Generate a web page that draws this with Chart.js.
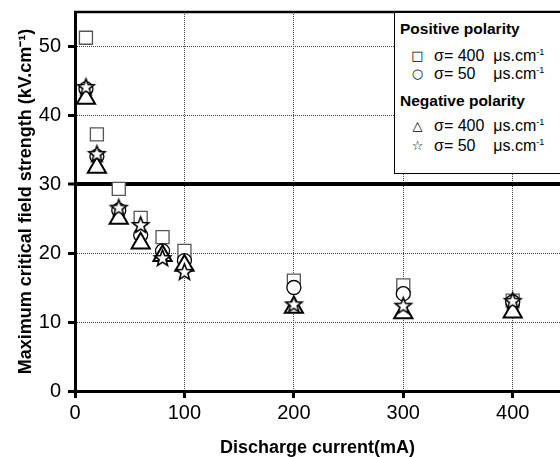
<!DOCTYPE html>
<html>
<head>
<meta charset="utf-8">
<script src="https://cdn.jsdelivr.net/npm/chart.js@4/dist/chart.umd.min.js"></script>
<style>
  html, body { margin: 0; padding: 0; background: #fff; overflow: hidden; }
  #wrap { position: relative; width: 560px; height: 457px; overflow: hidden; font-family: "Liberation Sans", Arial, sans-serif; }
  #chart { display: block; }
  #legend { position: absolute; left: 394px; top: 12px; width: 180px; height: 162px; border: 1px solid #000; background: #fff; box-sizing: border-box; }
  #legend .hd { position: absolute; left: 5px; font-weight: bold; font-size: 15.5px; line-height: 16px; white-space: nowrap; }
  #legend .row { position: absolute; left: 0; width: 180px; height: 16px; font-size: 16px; line-height: 16px; white-space: nowrap; }
  #legend .sym { position: absolute; left: 14px; width: 17px; text-align: center; font-family: "DejaVu Sans", sans-serif; font-size: 13px; }
  #legend .txt { position: absolute; left: 39px; }
  #legend sup { font-size: 9px; vertical-align: 6px; line-height: 0; }
</style>
</head>
<body>
<div id="wrap">
  <canvas id="chart" width="560" height="457"></canvas>
  <div id="legend">
    <div class="hd" style="top:8px">Positive polarity</div>
    <div class="row" style="top:35px"><span class="sym">□</span><span class="txt">σ= 400 &nbsp;μs.cm<sup>-1</sup></span></div>
    <div class="row" style="top:53px"><span class="sym">○</span><span class="txt">σ= 50 &nbsp; &nbsp;μs.cm<sup>-1</sup></span></div>
    <div class="hd" style="top:80px">Negative polarity</div>
    <div class="row" style="top:105px"><span class="sym">△</span><span class="txt">σ= 400 &nbsp;μs.cm<sup>-1</sup></span></div>
    <div class="row" style="top:125px"><span class="sym">☆</span><span class="txt">σ= 50 &nbsp; &nbsp;μs.cm<sup>-1</sup></span></div>
  </div>
</div>
<script>
// discharge current (mA)
const currents = [10, 20, 40, 60, 80, 100, 200, 300, 400];
// maximum critical field strength (kV/cm)
const pos400 = [51.2, 37.2, 29.3, 25.1, 22.3, 20.3, 16.0, 15.3, 13.1];
const pos50  = [43.8, 34.0, 26.2, 22.6, 20.3, 18.9, 15.0, 14.1, 12.9];
const neg400 = [42.4, 32.4, 25.0, 21.4, 19.6, 18.2, 12.1, 11.3, 11.4];
const neg50  = [44.0, 34.3, 26.5, 24.0, 19.2, 17.2, 12.5, 12.3, 13.0];

const xTicks = [0, 100, 200, 300, 400];
const yTicks = [0, 10, 20, 30, 40, 50];

const pts = arr => currents.map((x, i) => ({x: x, y: arr[i]}));

// five point star, outline only
function makeStar(outer, inner, lw){
  const size = Math.ceil(2 * outer + 2 * lw + 2);
  const c = document.createElement("canvas");
  c.width = size; c.height = size;
  const g = c.getContext("2d");
  g.translate(size / 2, size / 2);
  g.beginPath();
  for(let i = 0; i < 10; i++){
    const r = i % 2 ? inner : outer;
    const a = -Math.PI / 2 + i * Math.PI / 5;
    const px = Math.cos(a) * r, py = Math.sin(a) * r;
    i ? g.lineTo(px, py) : g.moveTo(px, py);
  }
  g.closePath();
  g.fillStyle = "#fff";
  g.fill();
  g.lineWidth = lw;
  g.strokeStyle = "#000";
  g.stroke();
  return c;
}

const topBorder = {
  id: "topBorder",
  afterDraw(chart){
    const {ctx, chartArea} = chart;
    ctx.save();
    ctx.strokeStyle = "#000";
    ctx.lineWidth = 2.5;
    ctx.beginPath();
    ctx.moveTo(chartArea.left - 1, chartArea.top);
    ctx.lineTo(chartArea.right, chartArea.top);
    ctx.stroke();
    ctx.restore();
  }
};

function noPad(s){
  s.paddingLeft = 0; s.paddingRight = 0; s.paddingTop = 0; s.paddingBottom = 0;
}

const tickFont = {family: "'Liberation Sans', Arial, sans-serif", size: 20};
const titleFont = {family: "'Liberation Sans', Arial, sans-serif", size: 18, weight: "bold", lineHeight: 1};

new Chart(document.getElementById("chart"), {
  type: "scatter",
  data: {
    datasets: [
      {label: "Positive polarity σ=400", data: pts(pos400), pointStyle: "rect", pointRadius: 9.2, borderColor: "#555", borderWidth: 1.3, backgroundColor: "#fff", order: 4},
      {label: "Positive polarity σ=50", data: pts(pos50), pointStyle: "circle", pointRadius: 7, borderColor: "#000", borderWidth: 1.3, backgroundColor: "#fff", order: 3},
      {label: "Negative polarity σ=400", data: pts(neg400), pointStyle: "triangle", pointRadius: 10.5, borderColor: "#000", borderWidth: 2, backgroundColor: "#fff", order: 2},
      {label: "Negative polarity σ=50", data: pts(neg50), pointStyle: makeStar(8.5, 3.6, 1.6), pointRadius: 8, order: 1}
    ]
  },
  options: {
    responsive: false,
    animation: false,
    devicePixelRatio: 1,
    layout: {autoPadding: false, padding: {top: 12, left: 0, right: 0, bottom: 0}},
    plugins: {legend: {display: false}, tooltip: {enabled: false}},
    scales: {
      x: {
        type: "linear", min: 0, max: 443.2,
        afterBuildTicks: s => { s.ticks = xTicks.map(v => ({value: v})); },
        afterFit: s => { s.height = 66; noPad(s); },
        ticks: {color: "#000", font: tickFont, padding: 3},
        grid: {color: "#444", lineWidth: 1, tickLength: 7, tickWidth: 3, tickColor: "#000"},
        border: {color: "#000", width: 3, dash: [1, 1]},
        title: {display: true, text: "Discharge current(mA)", color: "#000", font: titleFont, padding: {top: 0, bottom: 0}}
      },
      y: {
        type: "linear", min: 0, max: 54.93,
        afterBuildTicks: s => { s.ticks = yTicks.map(v => ({value: v})); },
        afterFit: s => { s.width = 75; noPad(s); },
        ticks: {color: "#000", font: tickFont, padding: 7},
        grid: {
          color: c => c.tick && c.tick.value === 30 ? "#000" : "#444",
          lineWidth: c => c.tick && c.tick.value === 30 ? 4 : 1,
          tickLength: 7, tickWidth: 3, tickColor: "#000"
        },
        border: {color: "#000", width: 3, dash: c => c.tick && c.tick.value === 30 ? [] : [1, 1]},
        title: {display: true, text: "Maximum critical field strength (kV.cm⁻¹)", color: "#000", font: titleFont, padding: {top: 17, bottom: 0}}
      }
    }
  },
  plugins: [topBorder]
});
</script>
</body>
</html>
